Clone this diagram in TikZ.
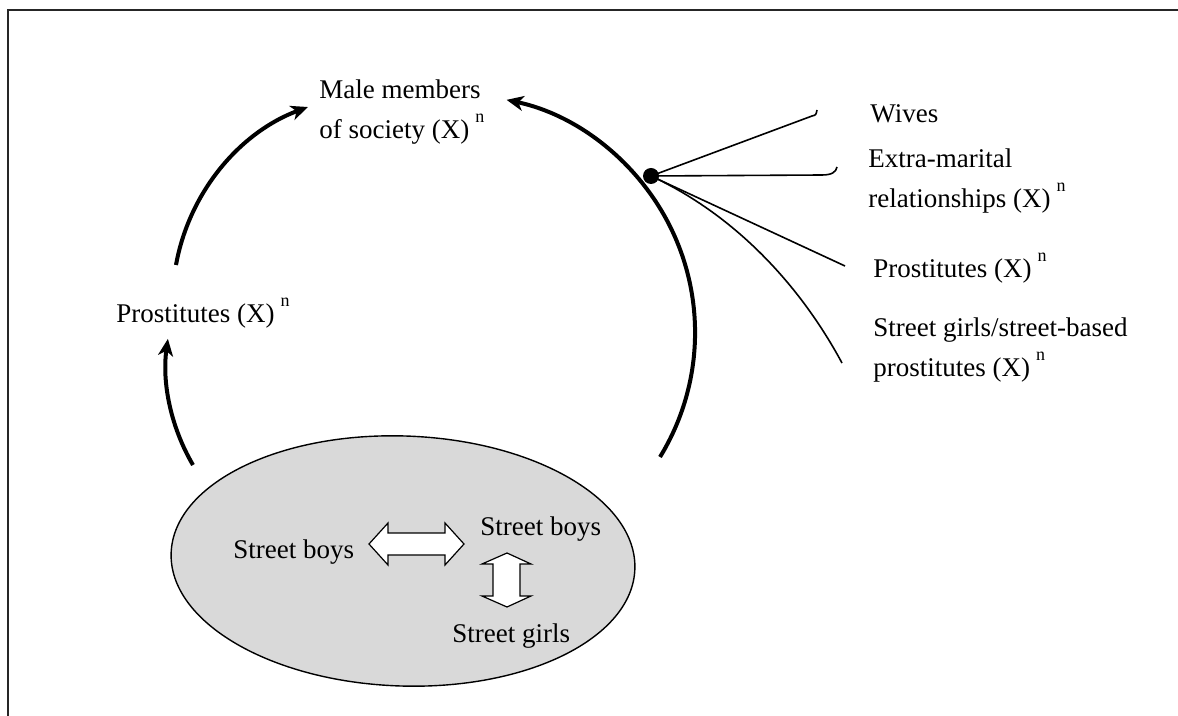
\documentclass[tikz,border=0pt]{standalone}
\usepackage{fontspec}
\setmainfont{Liberation Serif}
\usetikzlibrary{shapes.geometric,arrows.meta}
\newcommand\supn{\hspace{3pt}\raisebox{8pt}{\fontsize{9}{10}\selectfont n}}
\begin{document}
\begin{tikzpicture}[x=0.5pt,y=-0.5pt,
  lbl/.style={inner sep=0pt, anchor=base west, align=left, font=\fontsize{13.5}{20}\selectfont},
  flow/.style={line width=2pt, -{Stealth[length=8.5pt,width=7.5pt,inset=2.5pt]}},
  thin/.style={line width=0.8pt},
  dbl/.style={draw, fill=white, line width=0.6pt, line join=miter}]
\useasboundingbox (0,0) rectangle (1178,716);
% frame
\draw[line width=0.6pt, black!85] (8,716) -- (8,10) -- (1178,10);
% ellipse
\node[ellipse, draw, fill=gray!30, line width=0.7pt, minimum width=232pt, minimum height=125pt, inner sep=0pt, rotate=-2] (ell) at (403,561) {};
% labels (multi-line nodes: base anchor = last line baseline)
\node[lbl] (male) at (319,139) {Male members\\of society (X)\supn};
\node[lbl] (prosL) at (116,323) {Prostitutes (X)\supn};
\node[lbl] (wives) at (870,123) {Wives};
\node[lbl] (extra) at (868,208) {Extra-marital\\relationships (X)\supn};
\node[lbl] (prosR) at (873,278) {Prostitutes (X)\supn};
\node[lbl] (girlsR) at (873,377) {Street girls/street-based\\prostitutes (X)\supn};
\node[lbl] (sb1) at (233,558) {Street boys};
\node[lbl] (sb2) at (480,535) {Street boys};
\node[lbl] (sg) at (452,642) {Street girls};
% double arrows
\draw[dbl] (369,544) -- (388,523) -- (388,533) -- (445,533) -- (445,523) -- (464,544) -- (445,565) -- (445,555) -- (388,555) -- (388,565) -- cycle;
\draw[dbl] (507,553) -- (531,564) -- (520,564) -- (520,596) -- (531,596) -- (507,607) -- (482,596) -- (493,596) -- (493,564) -- (482,564) -- cycle;
% curved flow arrows
\coordinate (a1) at (193,465);
\coordinate (a2) at (176,265);
\coordinate (a3) at (660,457);
\draw[flow] (a1) arc[start angle=149.6, end angle=187.9, radius=196];
\draw[flow] (a2) arc[start angle=190.2, end angle=249.5, radius=208];
\draw[flow] (a3) arc[start angle=31.5, end angle=-78, radius=238];
% dot and fan of lines
\node[circle, fill, inner sep=0pt, minimum size=8pt] (dot) at (651,176) {};
\coordinate (w1) at (812,116);
\coordinate (w2) at (817,110);
\coordinate (e1) at (822,175);
\coordinate (e2) at (837,167);
\coordinate (p1) at (845,266);
\coordinate (g1) at (842,363);
\draw[thin] (dot.center) -- (w1) .. controls (816,115) .. (w2);
\draw[thin] (dot.center) -- (e1) .. controls (832,175) and (836,172) .. (e2);
\draw[thin] (dot.center) -- (p1);
\draw[thin] (dot.center) .. controls (735,215) and (800,285) .. (g1);
\end{tikzpicture}
\end{document}
